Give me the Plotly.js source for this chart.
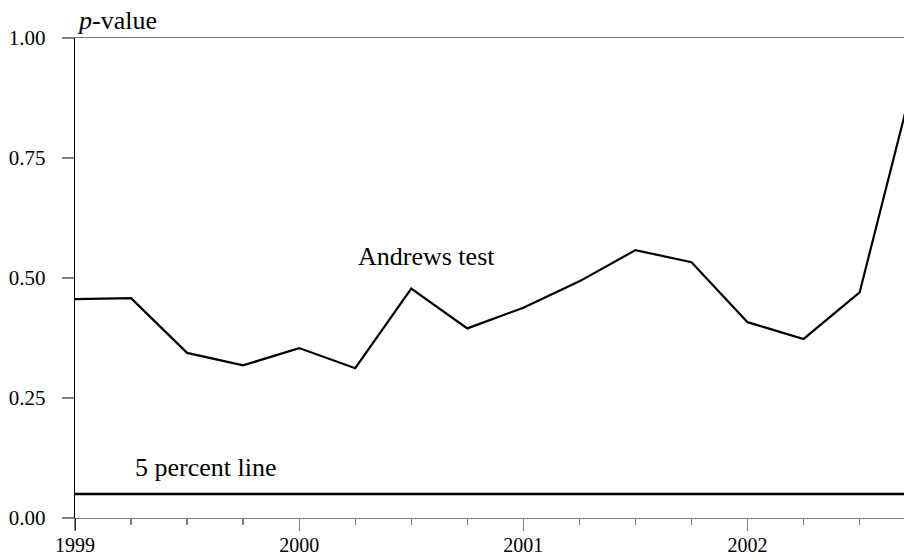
<!DOCTYPE html>
<html>
<head>
<meta charset="utf-8">
<script src="https://cdn.plot.ly/plotly-3.0.1.min.js"></script>
<style>html,body{margin:0;padding:0;background:#fff;}#chart{width:904px;height:560px;}</style>
</head>
<body>
<div id="chart"></div>
<script>
// Quarterly dates (decimal years) and Andrews test p-values
const quarters = [1999.00, 1999.25, 1999.50, 1999.75, 2000.00, 2000.25, 2000.50, 2000.75,
                  2001.00, 2001.25, 2001.50, 2001.75, 2002.00, 2002.25, 2002.50, 2002.75];
const andrewsP = [0.456, 0.458, 0.344, 0.318, 0.354, 0.312, 0.478, 0.395,
                  0.438, 0.493, 0.558, 0.533, 0.408, 0.373, 0.470, 0.930];
const fivePctX = [1999.00, 2002.75];
const fivePctY = [0.05, 0.05];
const xTickVals = [1999, 2000, 2001, 2002];
const xTickText = ["1999", "2000", "2001", "2002"];
const yTickVals = [0, 0.25, 0.5, 0.75, 1.0];
const yTickText = ["0.00", "0.25", "0.50", "0.75", "1.00"];

const FONT = "Liberation Serif, Times New Roman, serif";
const GRAY = "#808080";

const traces = [
  {x: quarters, y: andrewsP, type: "scatter", mode: "lines",
   line: {color: "#000", width: 2.2}, hoverinfo: "skip"},
  {x: fivePctX, y: fivePctY, type: "scatter", mode: "lines",
   line: {color: "#000", width: 2.4}, hoverinfo: "skip"}
];

const layout = {
  width: 904, height: 560,
  margin: {l: 75.3, r: 0, t: 37.7, b: 42.3, pad: 0},
  paper_bgcolor: "#fff", plot_bgcolor: "#fff",
  showlegend: false,
  font: {family: FONT, color: "#000", size: 21},
  xaxis: {
    range: [1999, 2002.698], showgrid: false, zeroline: false,
    showline: true, linecolor: GRAY, linewidth: 1.3, mirror: true,
    tickmode: "array", tickvals: xTickVals, ticktext: xTickText,
    ticks: "outside", ticklen: 12, tickcolor: GRAY, tickwidth: 1.3,
    ticklabelstandoff: -3,
    minor: {dtick: 0.25, tick0: 1999, ticks: "outside", ticklen: 6, tickcolor: GRAY, tickwidth: 1.3, showgrid: false},
    tickfont: {family: FONT, size: 20, color: "#000"}
  },
  yaxis: {
    range: [0, 1], showgrid: false, zeroline: false,
    showline: true, linecolor: "#000", linewidth: 1.3,
    tickmode: "array", tickvals: yTickVals, ticktext: yTickText,
    ticks: "outside", ticklen: 12, tickcolor: GRAY, tickwidth: 1.3,
    ticklabelstandoff: 12,
    tickfont: {family: FONT, size: 21, color: "#000"}
  },
  shapes: [
    {type: "line", xref: "x", yref: "paper", x0: 1999, x1: 1999, y0: -0.025, y1: 0,
     line: {color: "#000", width: 1.3}}
  ],
  annotations: [
    {text: "<i>p</i>-value", xref: "paper", yref: "paper", x: 0, y: 1, xanchor: "left", yanchor: "bottom",
     showarrow: false, font: {family: FONT, size: 26, color: "#000"}, yshift: 1},
    {text: "Andrews test", xref: "x", yref: "y", x: 2000.255, y: 0.545, xanchor: "left", yanchor: "middle",
     showarrow: false, font: {family: FONT, size: 26, color: "#000"}},
    {text: "5 percent line", xref: "x", yref: "y", x: 1999.26, y: 0.105, xanchor: "left", yanchor: "middle",
     showarrow: false, font: {family: FONT, size: 26, color: "#000"}}
  ]
};

Plotly.newPlot("chart", traces, layout, {staticPlot: true, displayModeBar: false});
</script>
</body>
</html>
